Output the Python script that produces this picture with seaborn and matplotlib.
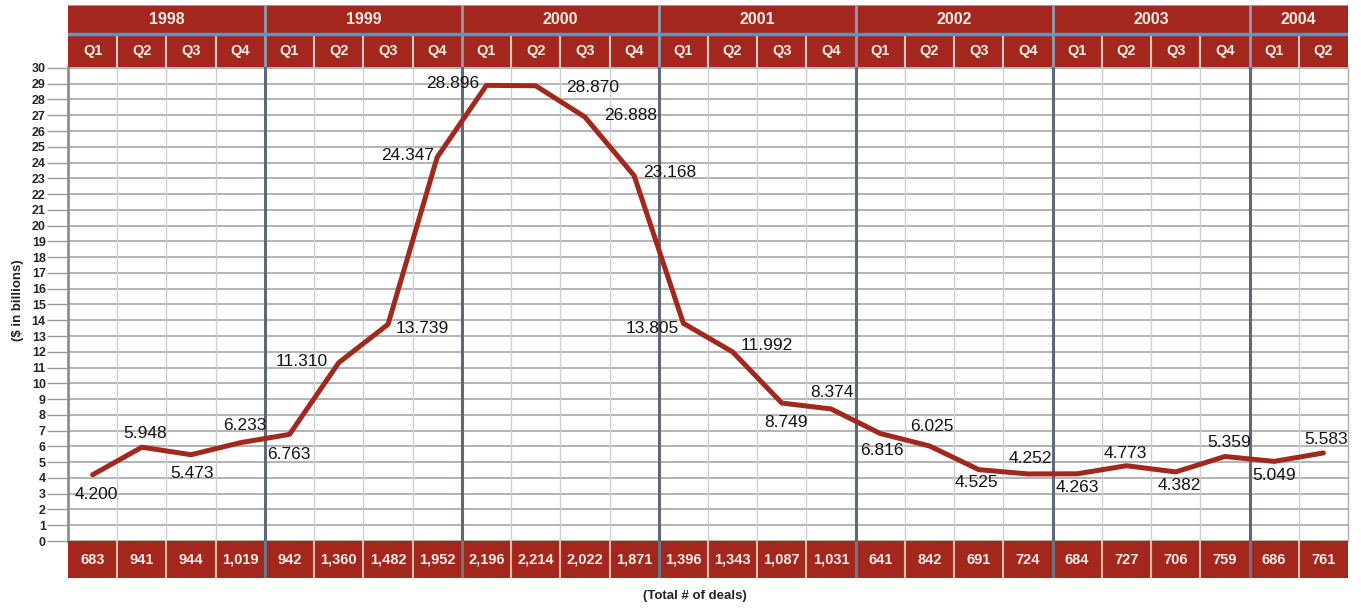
import pandas as pd
import seaborn as sns
import matplotlib.pyplot as plt

# quarterly venture investment, $ billions, with number of deals per quarter
years = ['1998', '1999', '2000', '2001', '2002', '2003', '2004']
quarters_per_year = [4, 4, 4, 4, 4, 4, 2]
quarters = ['Q1', 'Q2', 'Q3', 'Q4'] * 6 + ['Q1', 'Q2']
values = [4.200, 5.948, 5.473, 6.233,
          6.763, 11.310, 13.739, 24.347,
          28.896, 28.870, 26.888, 23.168,
          13.805, 11.992, 8.749, 8.374,
          6.816, 6.025, 4.525, 4.252,
          4.263, 4.773, 4.382, 5.359,
          5.049, 5.583]
deals = ['683', '941', '944', '1,019',
         '942', '1,360', '1,482', '1,952',
         '2,196', '2,214', '2,022', '1,871',
         '1,396', '1,343', '1,087', '1,031',
         '641', '842', '691', '724',
         '684', '727', '706', '759',
         '686', '761']

# label offsets from each point, in pixels (dx right, dy up)
label_offsets = [(4, -20), (3, 14), (1, -19), (5, 17),
                 (-1, -20), (-37, 1), (34, -4), (-30, 2),
                 (-34, 2), (57, -2), (46, 2), (36, 3),
                 (-31, -5), (34, 6), (4, -19), (1, 16),
                 (2, -17), (2, 19), (-2, -13), (2, 15),
                 (0, -14), (-1, 12), (4, -14), (4, 14),
                 (0, -14), (3, 13)]

RED = '#a3271d'
LINE = '#a2281c'
TXT = '#f6ebe6'

sns.set_style('white')
plt.rcParams['font.family'] = ['Liberation Sans', 'DejaVu Sans']

W, H = 1361, 609


def box(x0, y0, x1, y1):
    return [x0 / W, 1 - y1 / H, (x1 - x0) / W, (y1 - y0) / H]


fig = plt.figure(figsize=(W / 100, H / 100), dpi=100)
fig.patch.set_facecolor('white')

n = len(values)
bounds = []
acc = 0
for q in quarters_per_year[:-1]:
    acc += q
    bounds.append(acc - 0.5)

# main chart
ax = fig.add_axes(box(68, 67, 1348, 541))
df = pd.DataFrame({'quarter': range(n), 'value': values})
ax.set_xlim(-0.5, n - 0.5)
ax.set_ylim(0, 30.06)
ax.set_yticks(range(31))
ax.grid(axis='y', color='#b3b3b3', lw=1.4)
for i in range(1, n):
    x = i - 0.5
    if x in bounds:
        ax.axvline(x, color='#5f6878', lw=2.2, zorder=1)
    else:
        ax.axvline(x, color='#cfcfcf', lw=1, zorder=1)
sns.lineplot(data=df, x='quarter', y='value', ax=ax, color=LINE, lw=3.6,
             zorder=3)
for i, (v, (dx, dy)) in enumerate(zip(values, label_offsets)):
    ax.annotate(f'{v:.3f}', (i, v), xytext=(dx * 0.72, dy * 0.72),
                textcoords='offset points', ha='center', va='center',
                fontsize=12.5, color='#141414', zorder=4)
ax.set_xticks([])
ax.set_xlabel('')
ax.set_ylabel('')
ax.tick_params(axis='y', left=True, length=15, width=1, color='#9a9a9a',
               pad=1, labelsize=9)
for lab in ax.get_yticklabels():
    lab.set_fontweight('bold')
for s in ['top', 'bottom']:
    ax.spines[s].set_visible(False)
ax.spines['left'].set_color('#8a8f98')
ax.spines['left'].set_linewidth(2)
ax.spines['right'].set_color('#b0b0b0')
ax.spines['right'].set_linewidth(1)
fig.text(18 / W, 1 - 300 / H, '($ in billions)', rotation=90, ha='center',
         va='center', fontsize=9.5, fontweight='bold', color='#222222')

# header: years and quarters
hx = fig.add_axes(box(68, 5, 1348, 67))
hx.set_facecolor(RED)
hx.set_xlim(-0.5, n - 0.5)
hx.set_ylim(0, 62)
for i in range(1, n):
    x = i - 0.5
    if x in bounds:
        hx.vlines(x, 0, 62, color='#8f9db0', lw=2)
    else:
        hx.vlines(x, 0, 32, color='#e2c8c0', lw=1.5)
hx.axhline(33, color='#5d93c6', lw=2.5)
hx.axhline(62, color='#9a9a9a', lw=1.5)
start = 0
for yr, q in zip(years, quarters_per_year):
    hx.text(start + q / 2 - 0.5, 48, yr, ha='center', va='center',
            fontsize=11.5, fontweight='bold', color=TXT)
    start += q
for i, q in enumerate(quarters):
    hx.text(i, 16, q, ha='center', va='center', fontsize=10.5,
            fontweight='bold', color=TXT)
hx.set_xticks([])
hx.set_yticks([])
for s in hx.spines.values():
    s.set_visible(False)

# footer: number of deals
fx = fig.add_axes(box(68, 541, 1348, 578))
fx.set_facecolor(RED)
fx.set_xlim(-0.5, n - 0.5)
fx.set_ylim(0, 1)
for i in range(1, n):
    x = i - 0.5
    if x in bounds:
        fx.axvline(x, color='#6c7585', lw=2.2)
    else:
        fx.axvline(x, color='#e0b8a8', lw=1.5)
for i, d in enumerate(deals):
    fx.text(i, 0.5, d, ha='center', va='center', fontsize=10.5,
            fontweight='bold', color=TXT)
fx.set_xticks([])
fx.set_yticks([])
for s in fx.spines.values():
    s.set_visible(False)
fig.text(695 / W, 1 - 596 / H, '(Total # of deals)', ha='center',
         va='center', fontsize=9.5, fontweight='bold', color='#222222')

fig.savefig('out.png', dpi=100)
